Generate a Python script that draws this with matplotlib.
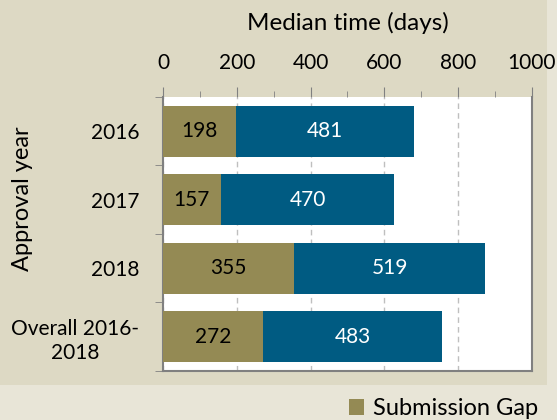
import matplotlib.pyplot as plt
from matplotlib.patches import Rectangle

plt.rcParams['font.family'] = ['Lato', 'DejaVu Sans']

# === Dados ===
categories = ["2016", "2017", "2018", "Overall 2016-\n2018"]
submission_gap = [198, 157, 355, 272]
review_time = [481, 470, 519, 483]

OLIVE = "#948A54"
BLUE = "#005B82"

fig = plt.figure(figsize=(5.57, 4.20), dpi=100)
fig.patch.set_facecolor("#E8E5D7")
# painel interno mais escuro
fig.patches.append(Rectangle((0, 0.0833), 0.982, 0.92, transform=fig.transFigure,
                             facecolor="#DDD9C4", edgecolor="none", zorder=-10))

ax = fig.add_axes([0.2926, 0.1167, 0.6625, 0.6524])
ax.set_facecolor("white")

y = list(range(len(categories)))
ax.barh(y, submission_gap, height=0.75, color=OLIVE, label="Submission Gap", zorder=3)
ax.barh(y, review_time, left=submission_gap, height=0.75, color=BLUE, zorder=3)

for i in y:
    ax.text(submission_gap[i] / 2, i, str(submission_gap[i]), ha="center", va="center",
            fontsize=15, color="black", zorder=4)
    ax.text(submission_gap[i] + review_time[i] / 2, i, str(review_time[i]), ha="center",
            va="center", fontsize=15, color="white", zorder=4)

ax.set_xlim(0, 1000)
ax.set_ylim(len(categories) - 0.5, -0.5)
ax.xaxis.tick_top()
ax.set_xticks(range(0, 1001, 200))
ax.set_xticks(range(100, 1000, 200), minor=True)
ax.tick_params(axis="x", which="major", direction="out", length=7, color="#808080",
               labelsize=15, pad=10)
ax.tick_params(axis="x", which="minor", direction="out", length=4.5, color="#808080")
ax.set_yticks(y)
ax.set_yticklabels(categories, fontsize=15, linespacing=1.25)
ax.set_yticks([i + 0.5 for i in y[:-1]] + [-0.5, len(categories) - 0.5], minor=True)
ax.tick_params(axis="y", which="major", length=0, pad=17)
ax.tick_params(axis="y", which="minor", length=6, color="#808080")
for lbl in ax.get_yticklabels():
    lbl.set_multialignment("center")

ax.grid(axis="x", linestyle=(0, (4, 3)), color="#BFBFBF", linewidth=1, zorder=0)
for s in ["left", "bottom", "right", "top"]:
    ax.spines[s].set_color("#808080")
    ax.spines[s].set_linewidth(1.5)
ax.spines["top"].set_visible(False)

ax.set_xlabel("Median time (days)", fontsize=17.5, labelpad=17)
ax.xaxis.set_label_position("top")
ax.set_ylabel("Approval year", fontsize=17)
ax.yaxis.set_label_coords(-0.352, 0.63)

fig.legend(loc="upper left", bbox_to_anchor=(0.626, 0.052), frameon=False,
           borderpad=0, borderaxespad=0,
           fontsize=17, handlelength=0.65, handleheight=0.65, handletextpad=0.4)

fig.savefig("out.png", dpi=100, facecolor=fig.get_facecolor())
